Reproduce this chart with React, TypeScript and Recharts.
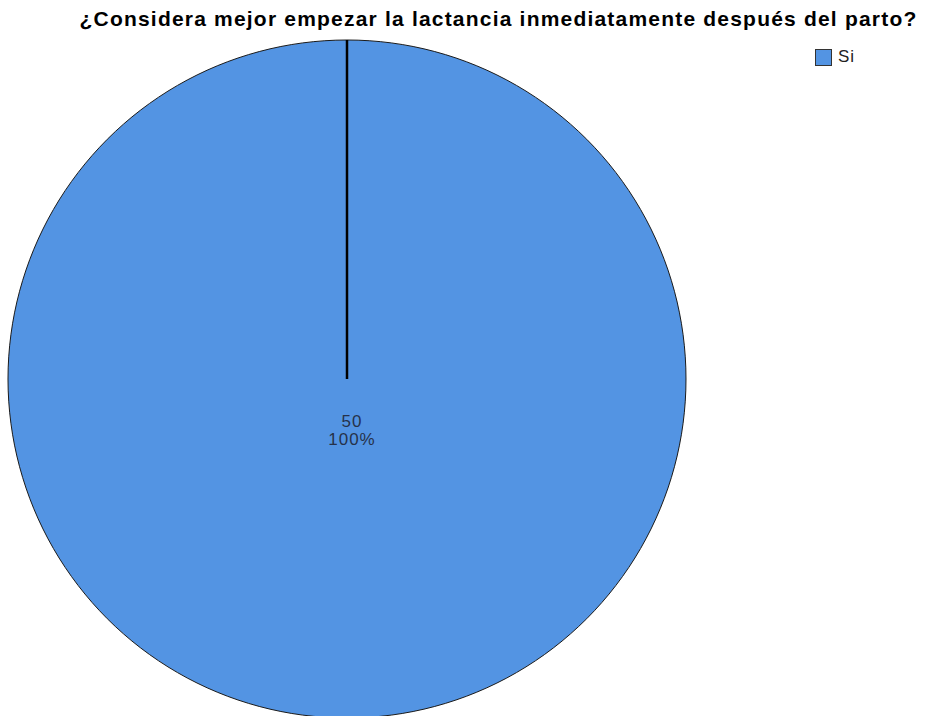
import { Legend, Pie, PieChart, Sector } from "recharts";

const TITLE = "¿Considera mejor empezar la lactancia inmediatamente después del parto?";
const CATEGORIES = ["Si"];
const COUNTS = [50];
const PERCENTS = ["100%"];
const SLICE_COLORS = ["#5394e3"];

const data = CATEGORIES.map((name, i) => ({
  name,
  value: COUNTS[i],
  percent: PERCENTS[i],
}));

const FONT = "'Liberation Sans', Arial, sans-serif";

function SliceShape(props: any) {
  const { cx, cy, outerRadius, startAngle } = props;
  const rad = (-startAngle * Math.PI) / 180;
  const x2 = cx + outerRadius * Math.cos(rad);
  const y2 = cy + outerRadius * Math.sin(rad);
  return (
    <g>
      <Sector {...props} stroke="#1a1a1a" strokeWidth={1} />
      <line x1={cx} y1={cy} x2={x2} y2={y2} stroke="#000" strokeWidth={2.5} />
    </g>
  );
}

// count + percent stacked in the middle of the pie
function CenterLabel(props: any) {
  const { cx, cy, index } = props;
  const row = data[index];
  const common = {
    textAnchor: "middle" as const,
    fill: "#26324a",
    fontSize: 17,
    fontFamily: FONT,
    letterSpacing: 1,
  };
  return (
    <g>
      <text x={cx + 5} y={cy + 48} {...common}>
        {row.value}
      </text>
      <text x={cx + 5} y={cy + 66} {...common}>
        {row.percent}
      </text>
    </g>
  );
}

function LegendContent() {
  return (
    <div style={{ fontFamily: FONT, fontSize: 17, color: "#222", letterSpacing: 1 }}>
      {data.map((row, i) => (
        <div key={row.name} style={{ display: "flex", alignItems: "center" }}>
          <span
            style={{
              display: "inline-block",
              width: 17,
              height: 17,
              background: SLICE_COLORS[i],
              border: "1px solid #333",
              boxSizing: "border-box",
              marginRight: 6,
            }}
          />
          <span>{row.name}</span>
        </div>
      ))}
    </div>
  );
}

export default function App() {
  return (
    <div style={{ position: "absolute", left: 0, top: 0, width: 925, height: 716, background: "#fff", overflow: "hidden" }}>
      <div
        style={{
          position: "absolute",
          left: 0,
          top: 7,
          width: 925,
          paddingLeft: 72,
          boxSizing: "border-box",
          textAlign: "center",
          fontFamily: FONT,
          fontWeight: "bold",
          fontSize: 21,
          letterSpacing: 1.2,
          color: "#000",
          whiteSpace: "nowrap",
        }}
      >
        {TITLE}
      </div>
      <PieChart
        width={925}
        height={716}
        margin={{ top: 0, right: 0, bottom: 0, left: 0 }}
        style={{ position: "absolute", left: 0, top: 0 }}
      >
        <Pie
          data={data}
          dataKey="value"
          nameKey="name"
          cx={347}
          cy={379}
          outerRadius={339}
          startAngle={90}
          endAngle={-270}
          fill={SLICE_COLORS[0]}
          shape={SliceShape}
          label={CenterLabel}
          labelLine={false}
          isAnimationActive={false}
        />
        <Legend
          content={LegendContent}
          wrapperStyle={{ position: "absolute", left: 815, top: 47, width: 80 }}
        />
      </PieChart>
    </div>
  );
}
